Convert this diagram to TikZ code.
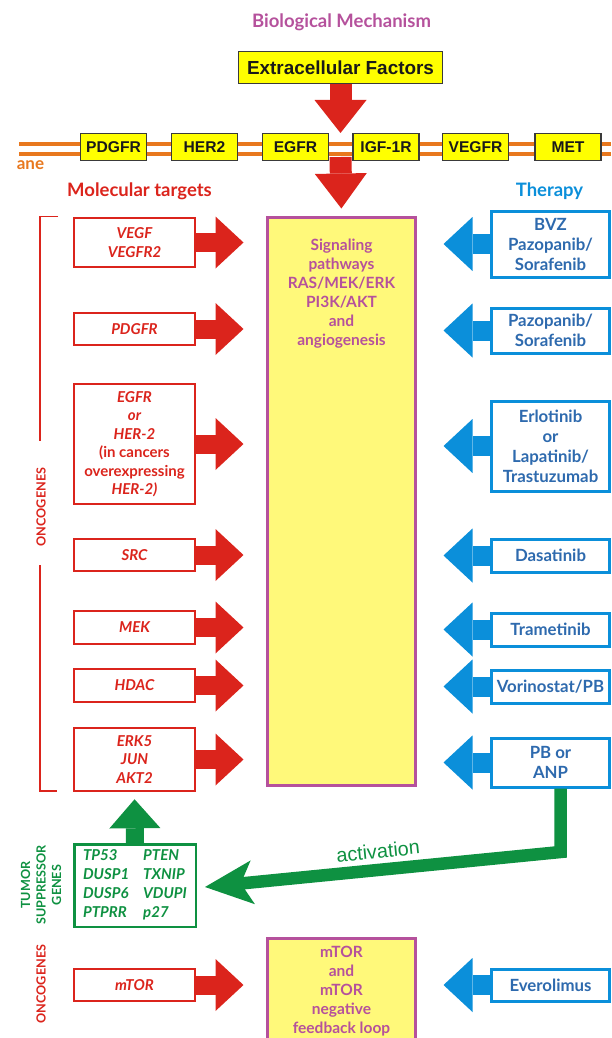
\documentclass[tikz,border=0pt]{standalone}
\usepackage{fontspec}
\setmainfont{Lato}
\newfontfamily\arialf{Liberation Sans}
\usetikzlibrary{arrows.meta,calc}
\definecolor{cred}{HTML}{DB241C}
\definecolor{cblue}{HTML}{0B8FDA}
\definecolor{cbluet}{HTML}{2E6AAE}
\definecolor{cgreen}{HTML}{0E9141}
\definecolor{cmag}{HTML}{B5519C}
\definecolor{cyel}{HTML}{FFFF00}
\definecolor{cyel2}{HTML}{FFF97A}
\definecolor{corange}{HTML}{E8781E}
\definecolor{cdark}{HTML}{3A3A3A}
\begin{document}
\begin{tikzpicture}[x=1pt,y=-1pt,
  redbox/.style={draw=cred, line width=2.5pt, fill=white, minimum width=121pt, text=cred,
    font=\fontsize{15}{18.5}\selectfont\bfseries\itshape, align=center, inner sep=0pt},
  bluebox/.style={draw=cblue, line width=3pt, fill=white, minimum width=118pt, text=cbluet,
    font=\fontsize{16.8}{20}\selectfont\bfseries, align=center, inner sep=0pt},
  receptor/.style={draw=cdark, line width=1.2pt, fill=cyel, minimum width=66pt, minimum height=27pt,
    font=\arialf\fontsize{15.6}{18}\selectfont\bfseries, text=black!90, inner sep=0pt},
  sidelabel/.style={rotate=90, align=center, font=\fontsize{12.6}{15.5}\selectfont\bfseries, inner sep=0pt},
  redarr/.style={draw=cred, line width=19pt, -{Triangle[length=28pt,width=52pt,line width=0pt]}},
  redarrv/.style={draw=cred, line width=22pt, -{Triangle[length=#1,width=52pt,line width=0pt]}},
  bluearr/.style={draw=cblue, line width=20pt, -{Triangle[length=29pt,width=54pt,line width=0pt]}},
  greenarr/.style={draw=cgreen, line width=18pt, -{Triangle[length=29pt,width=51pt,line width=0pt]}},
  greenbent/.style={draw=cgreen, line width=12.5pt, line join=miter,
    -{Stealth[length=48pt,width=44pt,inset=12pt,line width=0pt]}},
  heading/.style={font=\fontsize{18.5}{22}\selectfont\bfseries, inner sep=0pt}
]
\useasboundingbox (0,0) rectangle (611,1038);

% titles
\node[heading, text=cmag] (title) at (341.5,22) {Biological Mechanism};
\node[draw=cdark, line width=1.2pt, fill=cyel, minimum width=204pt, minimum height=32pt, inner sep=0pt,
  font=\arialf\fontsize{18.9}{22}\selectfont\bfseries, text=black!90] (extf) at (340.5,67.5) {Extracellular Factors};

% membrane
\draw[corange, line width=4pt] (19,144) -- (611,144);
\draw[corange, line width=4pt] (19,154) -- (611,154);
\node[text=corange, font=\fontsize{17}{20}\selectfont\bfseries, inner sep=0pt] (ane) at (30.5,165) {ane};
\node[receptor] (r1) at (113.5,147) {PDGFR};
\node[receptor] (r2) at (204.5,147) {HER2};
\node[receptor] (r3) at (295.5,147) {EGFR};
\node[receptor] (r4) at (386,147) {IGF-1R};
\node[receptor] (r5) at (475.5,147) {VEGFR};
\node[receptor] (r6) at (568,147) {MET};

\node[heading, text=cred] (mt) at (139.5,191) {Molecular targets};
\node[heading, text=cblue] (th) at (549.5,191) {Therapy};

% central boxes
\node[draw=cmag, line width=3pt, fill=cyel2, minimum width=148pt, minimum height=568pt, inner sep=0pt] (sig) at (341.5,501.5) {};
\node[text=cmag, align=center, font=\fontsize{15.5}{19}\selectfont\bfseries, inner sep=0pt] (sigtxt) at (341.5,294)
  {Signaling\\pathways\\RAS/MEK/ERK\\PI3K/AKT\\and\\angiogenesis};
\node[draw=cmag, line width=3pt, fill=cyel2, minimum width=148pt, minimum height=110pt, inner sep=0pt] (mtorbox) at (341.5,993.5) {};
\node[text=cmag, align=center, font=\fontsize{15.5}{19}\selectfont\bfseries, inner sep=0pt] (mtortxt) at (341.5,991)
  {mTOR\\and\\mTOR\\negative\\feedback loop};

% top arrows
\coordinate (mem1) at (340.5,133);
\coordinate (mem2) at (340.5,157);
\draw[redarrv=33pt] (extf.south) -- (mem1);
\draw[redarrv=35pt, shorten >=7.5pt] (mem2) -- (sig.north);

% left boxes
\node[redbox, minimum height=49pt] (vegf) at (134.5,242.5) {VEGF\\VEGFR2};
\node[redbox, minimum height=32pt] (pdgfr) at (134.5,329) {PDGFR};
\node[redbox, minimum height=120pt] (egfr) at (134.5,444) {EGFR\\or\\HER-2\\{\upshape(in cancers}\\{\upshape overexpressing}\\HER-2)};
\node[redbox, minimum height=32pt] (src) at (134.5,555) {SRC};
\node[redbox, minimum height=33pt] (mek) at (134.5,627.5) {MEK};
\node[redbox, minimum height=33pt] (hdac) at (134.5,685.5) {HDAC};
\node[redbox, minimum height=63pt] (erk) at (134.5,759.5) {ERK5\\JUN\\AKT2};
\node[redbox, minimum height=32pt] (mtor) at (134.5,985) {mTOR};

\foreach \n in {vegf,pdgfr,egfr,src,mek,hdac,erk}
  \draw[redarr, shorten >=22.5pt] (\n.east) -- (\n.east -| sig.west);
\draw[redarr, shorten >=22.5pt] (mtor.east) -- (mtor.east -| mtorbox.west);

% right boxes
\node[bluebox, minimum height=66pt] (bvz) at (550.5,244) {BVZ\\Pazopanib/\\Sorafenib};
\node[bluebox, minimum height=45pt] (pazo) at (550.5,330.5) {Pazopanib/\\Sorafenib};
\node[bluebox, minimum height=90pt] (erlo) at (550.5,446) {Erlotinib\\or\\Lapatinib/\\Trastuzumab};
\node[bluebox, minimum height=33pt] (dasa) at (550.5,555.5) {Dasatinib};
\node[bluebox, minimum height=33pt] (trame) at (550.5,629.5) {Trametinib};
\node[bluebox, minimum height=33pt] (vori) at (550.5,686.5) {Vorinostat/PB};
\node[bluebox, minimum height=49pt] (pb) at (550.5,762.5) {PB or\\ANP};
\node[bluebox, minimum height=32pt] (evero) at (550.5,985) {Everolimus};

\foreach \n in {bvz,pazo,erlo,dasa,trame,vori,pb}
  \draw[bluearr, shorten >=26.5pt] (\n.west) -- (\n.west -| sig.east);
\draw[bluearr, shorten >=26.5pt] (evero.west) -- (evero.west -| mtorbox.east);

% oncogenes bracket
\node[sidelabel, text=cred] (onc1) at (41,507) {ONCOGENES};
\draw[cred, line width=1.3pt] (58,216.5) -- (40,216.5) -- (40,441);
\draw[cred, line width=1.3pt] (40,565) -- (40,791) -- (57,791);

% tumor suppressor genes
\node[sidelabel, text=cgreen] (tsglab) at (41,885) {TUMOR\\SUPPRESSOR\\GENES};
\node[sidelabel, text=cred] (onc2) at (41,984) {ONCOGENES};
\node[draw=cgreen, line width=2.5pt, fill=white, minimum width=121.5pt, minimum height=82.5pt, inner sep=0pt,
  text=cgreen, font=\fontsize{15}{19}\selectfont\bfseries\itshape] (tsg) at (135,885.5)
  {\begin{tabular}{@{}l@{\hspace{14pt}}l@{}}TP53&PTEN\\DUSP1&TXNIP\\DUSP6&VDUPI\\PTPRR&p27\end{tabular}};
\draw[greenarr, shorten >=7pt] (tsg.north) -- (erk.south);

% activation arrow
\coordinate (bend) at (560.5,852);
\draw[greenbent] ($(pb.south)+(10,0)$) -- (bend) -- ($(tsg.east)+(8,1.5)$);
\node[text=cgreen, rotate=5.7, font=\arialf\fontsize{19.8}{23}\selectfont, inner sep=0pt] (act) at (378,851) {activation};
\end{tikzpicture}
\end{document}
